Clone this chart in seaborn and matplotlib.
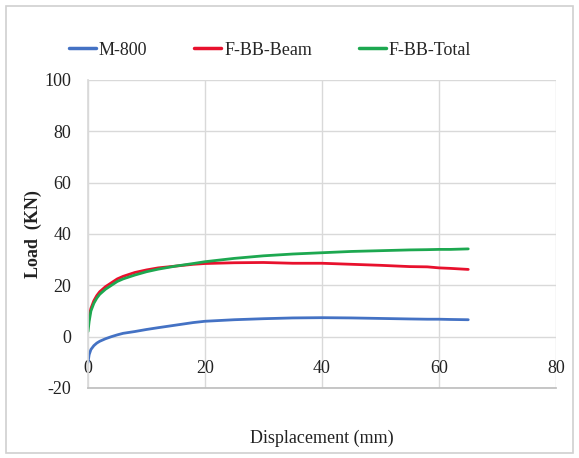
import numpy as np
import pandas as pd
import matplotlib
matplotlib.use("Agg")
import matplotlib.pyplot as plt
import seaborn as sns
from matplotlib.patches import Rectangle

# ---- data ----
disp = [0, 0.2, 0.5, 1, 1.5, 2, 3, 4, 5, 6, 8, 10, 12, 15, 18, 20, 25, 30,
        35, 40, 45, 50, 55, 58, 60, 62, 65]
m800 = [-10, -7, -5, -3.5, -2.5, -1.8, -0.8, 0, 0.7, 1.3, 2, 2.8, 3.5, 4.5,
        5.5, 6, 6.6, 7, 7.3, 7.4, 7.3, 7.1, 6.9, 6.8, 6.8, 6.7, 6.6]
fbb_beam = [4, 8, 11, 14, 16, 17.5, 19.5, 21, 22.5, 23.5, 25, 26, 26.8, 27.5,
            28.2, 28.5, 28.8, 28.9, 28.6, 28.6, 28.2, 27.8, 27.3, 27.2, 26.8,
            26.6, 26.2]
fbb_total = [2, 6, 10, 13, 15, 16.5, 18.5, 20, 21.5, 22.5, 24, 25.3, 26.3,
             27.5, 28.5, 29.2, 30.5, 31.5, 32.2, 32.7, 33.2, 33.5, 33.8, 33.9,
             34, 34, 34.2]
series_names = ["M-800", "F-BB-Beam", "F-BB-Total"]
x_ticks = [0, 20, 40, 60, 80]
y_ticks = [-20, 0, 20, 40, 60, 80, 100]

frames = []
for name, vals in zip(series_names, [m800, fbb_beam, fbb_total]):
    frames.append(pd.DataFrame({"Displacement": disp, "Load": vals, "Series": name}))
df = pd.concat(frames, ignore_index=True)

sns.set_theme(style="white")
plt.rcParams["font.family"] = ["Liberation Serif", "DejaVu Serif"]
plt.rcParams["axes.unicode_minus"] = False

fig = plt.figure(figsize=(5.79, 4.58), dpi=100)
ax = fig.add_axes([88 / 579, 1 - 388 / 458, (556 - 88) / 579, (388 - 80) / 458])

palette = {"M-800": "#4472C4", "F-BB-Beam": "#E8112D", "F-BB-Total": "#1DA850"}
sns.lineplot(data=df, x="Displacement", y="Load", hue="Series", palette=palette,
             linewidth=2.0, ax=ax, sort=False, estimator=None)

ax.set_xlim(0, 80)
ax.set_ylim(-20, 100)
ax.set_xticks(x_ticks)
ax.set_yticks(y_ticks)
ax.grid(True, color="#D9D9D9", linewidth=1.0)
ax.set_axisbelow(True)
for side in ["top", "right"]:
    ax.spines[side].set_visible(False)
ax.spines["left"].set_color("#D9D9D9")
ax.spines["bottom"].set_color("#BFBFBF")
ax.tick_params(axis="y", length=0, pad=12, labelsize=13, colors="#222222")
ax.tick_params(axis="x", length=3, width=0.8, color="#BFBFBF", direction="out",
               pad=-23, labelsize=13, labelcolor="#222222")
ax.set_xlabel("Displacement (mm)", fontsize=13, color="#222222", labelpad=30)
ax.set_ylabel("Load  (KN)", fontsize=13, fontweight="bold", color="#222222", labelpad=2)

leg = ax.legend(loc="center", bbox_to_anchor=(0.389, 1.097), ncol=3, frameon=False,
                fontsize=13, handlelength=1.5, handletextpad=0.15, columnspacing=2.6)
for h in leg.get_lines():
    h.set_linewidth(2.5)

fig.patches.append(Rectangle((6 / 579, 5 / 458), 567 / 579, 447 / 458,
                             transform=fig.transFigure, fill=False,
                             edgecolor="#D0D0D0", linewidth=1.2))

fig.savefig("out.png", dpi=100)
